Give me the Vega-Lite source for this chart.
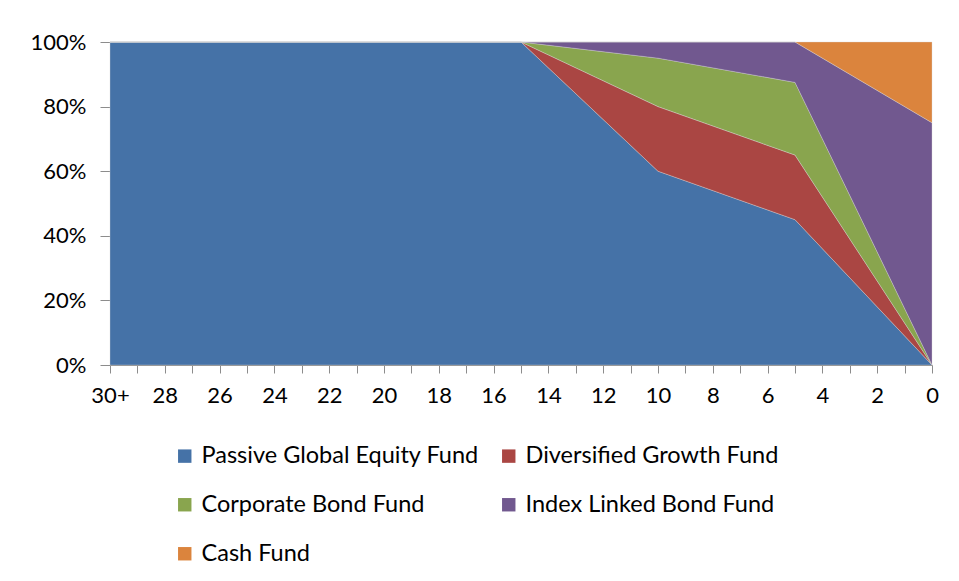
{
  "$schema": "https://vega.github.io/schema/vega-lite/v6.json",
  "width": 822,
  "height": 323,
  "autosize": {"type": "none"},
  "padding": {"left": 110, "top": 42, "right": 27, "bottom": 216},
  "background": "white",
  "config": {
    "view": {"stroke": null},
    "font": "Lato",
    "axis": {"labelFont": "Lato", "labelColor": "#000000", "labelFontSize": 22, "domainColor": "#8c8c8c", "tickColor": "#8c8c8c", "grid": false, "title": null},
    "legend": {"labelFont": "Lato", "labelColor": "#000000", "labelFontSize": 23.5}
  },
  "data": {
    "values": [
      {"years": 30, "fund": "Passive Global Equity Fund", "rank": 1, "share": 1.0},
      {"years": 15, "fund": "Passive Global Equity Fund", "rank": 1, "share": 1.0},
      {"years": 10, "fund": "Passive Global Equity Fund", "rank": 1, "share": 0.6},
      {"years": 5, "fund": "Passive Global Equity Fund", "rank": 1, "share": 0.45},
      {"years": 0, "fund": "Passive Global Equity Fund", "rank": 1, "share": 0.0},
      {"years": 30, "fund": "Diversified Growth Fund", "rank": 2, "share": 0.0},
      {"years": 15, "fund": "Diversified Growth Fund", "rank": 2, "share": 0.0},
      {"years": 10, "fund": "Diversified Growth Fund", "rank": 2, "share": 0.2},
      {"years": 5, "fund": "Diversified Growth Fund", "rank": 2, "share": 0.2},
      {"years": 0, "fund": "Diversified Growth Fund", "rank": 2, "share": 0.0},
      {"years": 30, "fund": "Corporate Bond Fund", "rank": 3, "share": 0.0},
      {"years": 15, "fund": "Corporate Bond Fund", "rank": 3, "share": 0.0},
      {"years": 10, "fund": "Corporate Bond Fund", "rank": 3, "share": 0.15},
      {"years": 5, "fund": "Corporate Bond Fund", "rank": 3, "share": 0.225},
      {"years": 0, "fund": "Corporate Bond Fund", "rank": 3, "share": 0.0},
      {"years": 30, "fund": "Index Linked Bond Fund", "rank": 4, "share": 0.0},
      {"years": 15, "fund": "Index Linked Bond Fund", "rank": 4, "share": 0.0},
      {"years": 10, "fund": "Index Linked Bond Fund", "rank": 4, "share": 0.05},
      {"years": 5, "fund": "Index Linked Bond Fund", "rank": 4, "share": 0.125},
      {"years": 0, "fund": "Index Linked Bond Fund", "rank": 4, "share": 0.75},
      {"years": 30, "fund": "Cash Fund", "rank": 5, "share": 0.0},
      {"years": 15, "fund": "Cash Fund", "rank": 5, "share": 0.0},
      {"years": 10, "fund": "Cash Fund", "rank": 5, "share": 0.0},
      {"years": 5, "fund": "Cash Fund", "rank": 5, "share": 0.0},
      {"years": 0, "fund": "Cash Fund", "rank": 5, "share": 0.25}
    ]
  },
  "mark": {"type": "area", "stroke": "#d9d9d9", "strokeWidth": 0.6, "strokeOpacity": 0.6},
  "encoding": {
    "x": {
      "field": "years", "type": "quantitative",
      "scale": {"domain": [30, 0], "nice": false, "zero": false},
      "axis": {
        "values": [30,29,28,27,26,25,24,23,22,21,20,19,18,17,16,15,14,13,12,11,10,9,8,7,6,5,4,3,2,1,0],
        "labelExpr": "datum.value % 2 == 0 ? (datum.value == 30 ? '30+' : datum.label) : ''",
        "tickSize": 8, "labelPadding": 12, "labelFlush": false, "labelOverlap": false
      }
    },
    "y": {
      "field": "share", "type": "quantitative", "stack": "zero",
      "scale": {"domain": [0, 1], "nice": false},
      "axis": {"values": [0, 0.2, 0.4, 0.6, 0.8, 1.0], "format": ".0%", "tickSize": 10, "labelPadding": 14}
    },
    "color": {
      "field": "fund", "type": "nominal",
      "scale": {
        "domain": ["Passive Global Equity Fund", "Diversified Growth Fund", "Corporate Bond Fund", "Index Linked Bond Fund", "Cash Fund"],
        "range": ["#4572A7", "#AA4643", "#89A54E", "#71588F", "#DB843D"]
      },
      "legend": {
        "title": null, "orient": "none", "legendX": 63, "legendY": 402, "direction": "horizontal",
        "columns": 2, "symbolType": "square", "symbolSize": 180, "symbolStrokeWidth": 0,
        "columnPadding": 18, "rowPadding": 24, "padding": 0, "labelOffset": 5, "labelLimit": 400
      }
    },
    "order": {"field": "rank", "type": "quantitative"}
  }
}
